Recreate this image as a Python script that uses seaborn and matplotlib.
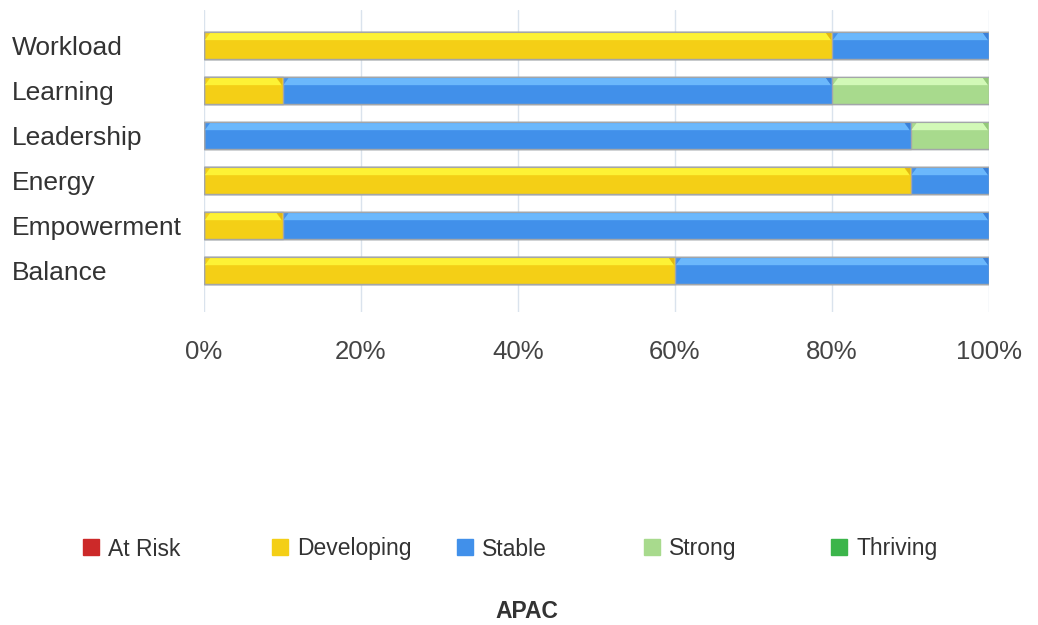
import numpy as np
import pandas as pd
import matplotlib
matplotlib.use("Agg")
import matplotlib.pyplot as plt
import seaborn as sns
from matplotlib.patches import Polygon
from matplotlib.lines import Line2D

# ---- data -------------------------------------------------------------
categories = ["Workload", "Learning", "Leadership", "Energy", "Empowerment", "Balance"]
levels = ["At Risk", "Developing", "Stable", "Strong", "Thriving"]
at_risk = [0, 0, 0, 0, 0, 0]
developing = [80, 10, 0, 90, 10, 60]
stable = [20, 70, 90, 10, 90, 40]
strong = [0, 20, 10, 0, 0, 0]
thriving = [0, 0, 0, 0, 0, 0]
tick_values = [0, 20, 40, 60, 80, 100]
tick_labels = ["0%", "20%", "40%", "60%", "80%", "100%"]
region = "APAC"

# ---- styling ----------------------------------------------------------
base = {"At Risk": "#cc2929", "Developing": "#f4cf16", "Stable": "#4190ea",
        "Strong": "#a8da8d", "Thriving": "#3bb54a"}
shine = {"At Risk": "#e85050", "Developing": "#fdf235", "Stable": "#6bb8fc",
         "Strong": "#d2f9b7", "Thriving": "#6ad676"}
shade = {"At Risk": "#b02424", "Developing": "#e2b812", "Stable": "#3a80d8",
         "Strong": "#94c97a", "Thriving": "#2f9c3d"}
edge = "#a3a6a9"
text_color = "#333333"

sns.set_theme(style="white")
plt.rcParams["font.family"] = ["Liberation Sans", "DejaVu Sans"]

W, H = 1038, 625
fig = plt.figure(figsize=(W / 100, H / 100), dpi=100)
ax = fig.add_axes([204 / W, 1 - 312 / H, 785 / W, 302 / H])

df = pd.DataFrame(dict(zip(levels, [at_risk, developing, stable, strong, thriving])),
                  index=categories)
cum = df.cumsum(axis=1)

bar_h = 0.6
# stacked bars: draw cumulative totals from the last level back to the first
for lvl in reversed(levels):
    sns.barplot(x=cum[lvl].values, y=categories, orient="h", color=base[lvl],
                saturation=1, width=bar_h, edgecolor=edge, linewidth=1.0,
                ax=ax, zorder=3)

# glossy top strip on each segment
px_x = 100 / 785          # one pixel in x data units
px_y = bar_h / 27         # one pixel in y data units
slant = 6 * px_x
for i, cat in enumerate(categories):
    top = i - bar_h / 2
    for lvl in levels:
        val = df.loc[cat, lvl]
        if val <= 0:
            continue
        right = cum.loc[cat, lvl]
        left = right - val
        y0 = top + 1.5 * px_y
        y1 = top + 8.5 * px_y
        ym = top + 5 * px_y
        hl = Polygon([(left + 1.0 * px_x, y1), (left + slant, y0),
                      (right - slant, y0), (right - 1.0 * px_x, y1)],
                     closed=True, facecolor=shine[lvl], edgecolor="none", zorder=4)
        ax.add_patch(hl)
        lower = Polygon([(left + 1.0 * px_x, y1), (left + 3.5 * px_x, ym),
                         (right - 3.5 * px_x, ym), (right - 1.0 * px_x, y1)],
                        closed=True, facecolor=shine[lvl], alpha=0.55,
                        edgecolor="none", zorder=4)
        ax.add_patch(lower)
        tri = Polygon([(right - slant, y0), (right - 1.0 * px_x, y0),
                       (right - 1.0 * px_x, y1)],
                      closed=True, facecolor=shade[lvl], edgecolor="none", zorder=4)
        ax.add_patch(tri)

# axes, grid and ticks
ax.set_xlim(0, 100)
ax.set_ylim(len(categories) - 1 + 0.93, -0.78)
ax.set_xticks(tick_values)
ax.set_xticklabels(tick_labels)
ax.grid(axis="x", color="#dae3ed", linewidth=1.0, zorder=0)
ax.grid(axis="y", visible=False)
ax.set_axisbelow(True)
for s in ax.spines.values():
    s.set_visible(False)
ax.set_xlabel("")
ax.set_ylabel("")
ax.tick_params(axis="x", length=0, pad=20, labelsize=18.5, labelcolor="#444444")
ax.tick_params(axis="y", length=0, pad=138, labelsize=19, labelcolor=text_color)
for lab in ax.get_yticklabels():
    lab.set_horizontalalignment("left")

# legend: evenly spaced entries
legend_x = [82, 271, 456, 643, 830]
for lvl, lx in zip(levels, legend_x):
    h = Line2D([], [], marker="s", linestyle="none", markersize=11,
               markerfacecolor=base[lvl], markeredgecolor=base[lvl])
    lg = fig.legend([h], [lvl], loc="center left",
                    bbox_to_anchor=(lx / W, 1 - 549 / H), frameon=False,
                    fontsize=16.5, handlelength=0.8, handletextpad=0.35,
                    borderpad=0, borderaxespad=0)
    for t in lg.get_texts():
        t.set_color(text_color)

fig.text(527 / W, 1 - 612 / H, region, ha="center", va="center",
         fontsize=16.5, fontweight="bold", color=text_color)

fig.savefig("out.png", dpi=100, facecolor="white")
